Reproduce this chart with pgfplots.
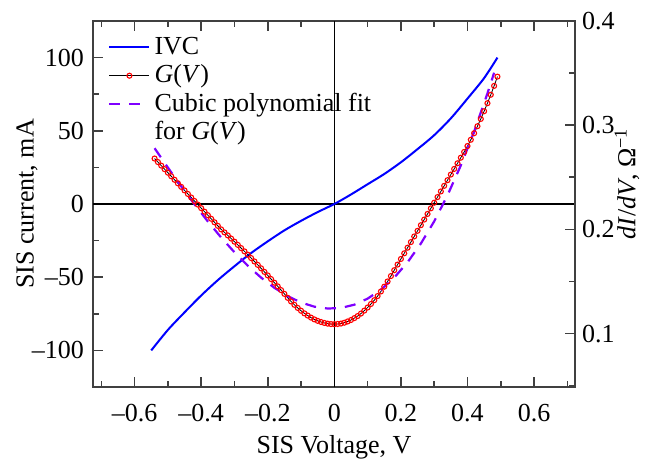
\documentclass[border=0pt]{standalone}
\usepackage{fontspec}
\setmainfont{Liberation Serif}
\usepackage{pgfplots}
\pgfplotsset{compat=1.18}

\definecolor{ivcblue}{RGB}{0,0,255}
\definecolor{fitviolet}{RGB}{127,0,255}
\definecolor{framegray}{RGB}{64,64,64}

% I-V curve, mA vs V
\pgfplotstableread{
V I
-0.55 -100
-0.50 -86
-0.45 -74
-0.40 -62.5
-0.35 -52
-0.30 -42.5
-0.25 -33.5
-0.20 -25.5
-0.15 -18
-0.10 -11.5
-0.05 -5.5
0.00 0
0.05 6.5
0.10 13.5
0.15 20.5
0.20 28.5
0.25 37.5
0.30 47
0.35 58.5
0.40 72
0.45 86
0.49 100
}\ivc

% differential conductance, 1/Ohm
\pgfplotstableread{
V G
-0.54 0.2680
-0.53 0.2646
-0.52 0.2612
-0.51 0.2578
-0.50 0.2544
-0.49 0.2510
-0.48 0.2476
-0.47 0.2442
-0.46 0.2408
-0.45 0.2374
-0.44 0.2340
-0.43 0.2306
-0.42 0.2272
-0.41 0.2238
-0.40 0.2204
-0.39 0.2170
-0.38 0.2136
-0.37 0.2102
-0.36 0.2068
-0.35 0.2034
-0.34 0.2000
-0.33 0.1971
-0.32 0.1942
-0.31 0.1912
-0.30 0.1882
-0.29 0.1851
-0.28 0.1820
-0.27 0.1789
-0.26 0.1757
-0.25 0.1725
-0.24 0.1692
-0.23 0.1659
-0.22 0.1626
-0.21 0.1592
-0.20 0.1558
-0.19 0.1523
-0.18 0.1488
-0.17 0.1453
-0.16 0.1417
-0.15 0.1381
-0.14 0.1343
-0.13 0.1308
-0.12 0.1276
-0.11 0.1246
-0.10 0.1219
-0.09 0.1194
-0.08 0.1173
-0.07 0.1153
-0.06 0.1136
-0.05 0.1122
-0.04 0.1111
-0.03 0.1102
-0.02 0.1095
-0.01 0.1091
0.00 0.1090
0.01 0.1092
0.02 0.1096
0.03 0.1104
0.04 0.1116
0.05 0.1130
0.06 0.1148
0.07 0.1168
0.08 0.1192
0.09 0.1220
0.10 0.1250
0.11 0.1284
0.12 0.1320
0.13 0.1360
0.14 0.1404
0.15 0.1450
0.16 0.1500
0.17 0.1552
0.18 0.1608
0.19 0.1662
0.20 0.1716
0.21 0.1770
0.22 0.1824
0.23 0.1878
0.24 0.1932
0.25 0.1986
0.26 0.2040
0.27 0.2094
0.28 0.2148
0.29 0.2202
0.30 0.2256
0.31 0.2310
0.32 0.2364
0.33 0.2418
0.34 0.2472
0.35 0.2526
0.36 0.2580
0.37 0.2634
0.38 0.2688
0.39 0.2743
0.40 0.2800
0.41 0.2860
0.42 0.2923
0.43 0.2990
0.44 0.3060
0.45 0.3134
0.46 0.3211
0.47 0.3292
0.48 0.3377
0.49 0.3466
}\cond

% cubic polynomial fit of G(V)
\pgfplotstableread{
V G
-0.54 0.2779
-0.50 0.2593
-0.46 0.2413
-0.42 0.2240
-0.38 0.2076
-0.34 0.1922
-0.30 0.1780
-0.26 0.1651
-0.22 0.1537
-0.18 0.1439
-0.14 0.1359
-0.10 0.1298
-0.06 0.1258
-0.02 0.1240
0.02 0.1246
0.06 0.1277
0.10 0.1335
0.14 0.1421
0.18 0.1537
0.22 0.1684
0.26 0.1864
0.30 0.2077
0.34 0.2327
0.38 0.2614
0.42 0.2939
0.46 0.3305
0.48 0.3503
}\fit

\pgfplotsset{
  base/.style={
    scale only axis, width=241pt, height=183pt,
    xmin=-0.725, xmax=0.723,
    axis line style={framegray, line width=1pt},
    tick style={framegray, line width=0.8pt},
    major tick length=5pt, minor tick length=3pt,
    tick align=inside,
    tick label style={font=\fontsize{13}{15}\selectfont, /pgf/number format/assume math mode=true},
    label style={font=\fontsize{13}{15}\selectfont},
  },
}

\begin{document}
\begin{tikzpicture}
\begin{axis}[base,
  ymin=-125, ymax=125,
  xtick pos=both, ytick pos=left,
  xtick={-0.6,-0.4,-0.2,0,0.2,0.4,0.6},
  xticklabels={\textrm{–0.6},\textrm{–0.4},\textrm{–0.2},\textrm{0},\textrm{0.2},\textrm{0.4},\textrm{0.6}},
  minor xtick={-0.7,-0.5,-0.3,-0.1,0.1,0.3,0.5,0.7},
  ytick={-100,-50,0,50,100},
  yticklabels={\textrm{–100},\textrm{–50},\textrm{0},\textrm{50},\textrm{100}},
  minor ytick={-75,-25,25,75},
  xticklabel style={anchor=base, yshift=-17pt},
  yticklabel style={xshift=-1pt},
  extra x ticks={0}, extra x tick labels={},
  extra y ticks={0}, extra y tick labels={},
  extra tick style={grid=major, major grid style={black, line width=0.7pt}, major tick length=0pt},
  xlabel={SIS Voltage, V},
  ylabel={SIS current, mA},
  xlabel style={at={(axis description cs:0.5,-0.182)}, anchor=base},
  ylabel style={at={(axis description cs:-0.137,0.5)}, anchor=center},
]
\addplot[ivcblue, line width=1pt, smooth] table[x=V, y=I] {\ivc};
\coordinate (bl) at (rel axis cs:0,0);
\coordinate (tr) at (rel axis cs:1,1);
\end{axis}

\begin{axis}[base,
  axis x line=none, axis y line*=right,
  ymin=0.0487, ymax=0.4,
  ytick={0.1,0.2,0.3,0.4},
  yticklabels={\textrm{0.1},\textrm{0.2},\textrm{0.3},\textrm{0.4}},
  minor ytick={0.05,0.15,0.25,0.35},
  ylabel={\textit{dI}/\textit{dV}, Ω\textsuperscript{−1}},
  ylabel style={at={(axis description cs:1.108,0.555)}, anchor=center},
  legend style={at={(axis description cs:0.031,0.968)}, anchor=north west,
    draw=none, fill=none, inner sep=0pt, row sep=0pt,
    font=\fontsize{13}{15}\selectfont,
    cells={anchor=west, text height=8.7pt, text depth=2.8pt, inner ysep=0.5pt, inner xsep=5pt}},
  legend image code/.code={\draw[mark repeat=2, mark phase=2] plot coordinates {(0pt,0pt) (10pt,0pt) (20pt,0pt)};},
]
\addlegendimage{ivcblue, line width=1pt}
\addlegendentry{IVC}
\addplot[black, line width=0.4pt, mark=o, mark size=1.25pt,
  mark options={red, solid, fill=white, line width=0.55pt}] table[x=V, y=G] {\cond};
\addlegendentry{\textit{G}(\textit{V})}
\addplot[fitviolet, line width=1.1pt, dash pattern=on 5.5pt off 4.5pt] table[x=V, y=G] {\fit};
\addlegendentry{Cubic polynomial fit}
\addlegendimage{empty legend}
\addlegendentry{for \textit{G}(\textit{V})}
\end{axis}

\pgfresetboundingbox
\path[use as bounding box] ([shift={(-46.5pt,-36pt)}]bl) rectangle ([shift={(44.5pt,10.5pt)}]tr);
\end{tikzpicture}
\end{document}
